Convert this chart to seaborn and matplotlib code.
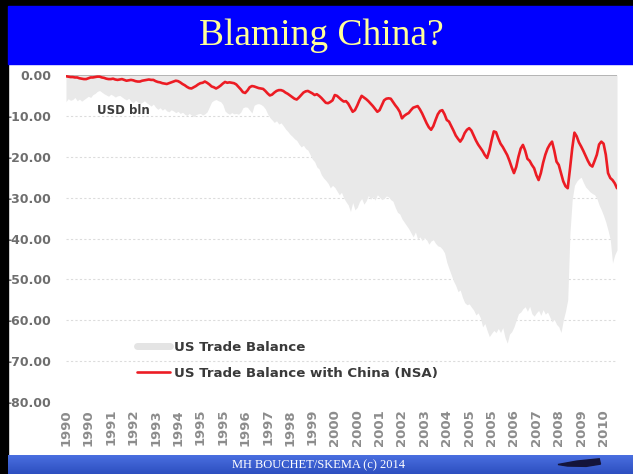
import numpy as np
import pandas as pd
import matplotlib
matplotlib.use("Agg")
import matplotlib.pyplot as plt
from matplotlib.patches import Rectangle, Polygon
from matplotlib.lines import Line2D
import seaborn as sns

# Monthly balances in USD bln, January 1990 to July 2010
china_balance = [
    -0.3, -0.4, -0.5, -0.5, -0.6, -0.6, -0.8, -0.9, -1.0, -1.0, -0.8, -0.6,      # 1990
    -0.6, -0.5, -0.4, -0.4, -0.6, -0.7, -0.9, -1.0, -1.0, -0.9, -1.1, -1.2,      # 1991
    -1.1, -1.0, -1.2, -1.4, -1.3, -1.2, -1.3, -1.5, -1.6, -1.6, -1.4, -1.3,      # 1992
    -1.2, -1.1, -1.2, -1.2, -1.5, -1.7, -1.8, -2.0, -2.1, -2.2, -2.0, -1.8,      # 1993
    -1.6, -1.4, -1.5, -1.8, -2.2, -2.5, -2.9, -3.2, -3.3, -3.0, -2.7, -2.3,      # 1994
    -2.0, -1.9, -1.6, -1.9, -2.3, -2.8, -3.0, -3.3, -3.0, -2.6, -2.1, -1.7,      # 1995
    -1.9, -1.8, -1.9, -2.0, -2.3, -2.9, -3.5, -4.2, -4.4, -3.8, -3.0, -2.7,      # 1996
    -2.8, -3.0, -3.2, -3.3, -3.4, -3.9, -4.5, -5.0, -4.8, -4.3, -3.9, -3.7,      # 1997
    -3.7, -3.9, -4.3, -4.6, -5.0, -5.4, -5.8, -6.0, -5.5, -4.9, -4.3, -4.0,      # 1998
    -3.9, -4.2, -4.5, -4.9, -4.7, -5.1, -5.6, -6.2, -6.8, -6.9, -6.6, -6.2,      # 1999
    -4.9, -5.1, -5.6, -6.1, -6.5, -6.4, -7.0, -8.0, -9.0, -8.6, -7.5, -6.2,      # 2000
    -5.1, -5.5, -5.9, -6.4, -7.0, -7.6, -8.3, -9.0, -8.6, -7.4, -6.2, -5.8,      # 2001
    -5.7, -5.8, -6.6, -7.4, -8.1, -9.0, -10.6, -10.0, -9.6, -9.3, -8.6, -8.0,    # 2002
    -7.8, -7.6, -8.4, -9.4, -10.6, -11.8, -12.8, -13.4, -12.5, -11.0, -9.6, -8.8,  # 2003
    -8.6, -9.6, -11.0, -11.4, -12.5, -13.6, -14.8, -15.6, -16.3, -15.5, -14.2, -13.4,  # 2004
    -13.0, -13.6, -14.8, -16.0, -17.0, -17.8, -18.6, -19.6, -20.3, -18.5, -16.0, -13.8,  # 2005
    -14.0, -15.5, -16.8, -17.6, -18.6, -19.6, -21.0, -22.6, -24.0, -22.5, -20.0, -18.0,  # 2006
    -17.1, -18.5, -20.5, -21.0, -22.0, -22.8, -24.5, -25.7, -24.0, -21.5, -19.5, -18.0,  # 2007
    -17.0, -16.3, -18.5, -21.2, -22.0, -24.0, -26.0, -27.2, -27.7, -23.0, -18.0, -14.1,  # 2008
    -15.0, -16.5, -17.5, -18.6, -19.8, -21.0, -22.0, -22.4, -21.0, -19.5, -17.0, -16.3,  # 2009
    -16.8, -19.5, -24.0, -25.2, -25.7, -26.5, -27.7,                                    # 2010
]

us_balance = [
    -6.5, -5.8, -6.2, -6.0, -5.5, -6.3, -5.9, -6.4, -6.0, -5.6, -5.2, -5.5,      # 1990
    -4.8, -4.5, -4.0, -3.8, -4.2, -4.6, -4.9, -5.2, -4.7, -5.0, -5.4, -5.1,      # 1991
    -5.0, -5.4, -5.8, -6.1, -5.7, -6.4, -6.8, -6.2, -6.6, -7.0, -6.7, -6.3,      # 1992
    -6.8, -7.2, -7.6, -7.1, -7.9, -8.4, -8.0, -8.6, -8.2, -8.8, -9.0, -8.5,      # 1993
    -8.8, -9.2, -8.9, -9.4, -9.1, -9.6, -9.9, -9.4, -9.8, -10.2, -9.7, -9.5,     # 1994
    -9.4, -9.8, -9.5, -9.0, -7.8, -6.6, -6.2, -6.0, -6.3, -6.5, -7.2, -8.8,      # 1995
    -9.3, -9.6, -9.2, -9.5, -9.4, -9.6, -9.1, -8.0, -7.8, -7.9, -8.6, -9.3,      # 1996
    -7.4, -7.1, -7.0, -7.2, -7.6, -8.3, -9.5, -10.4, -11.0, -11.6, -11.2, -12.0,  # 1997
    -11.7, -12.4, -13.2, -13.8, -14.5, -15.0, -15.6, -16.0, -16.9, -17.6, -17.2, -18.0,  # 1998
    -18.4, -19.5, -20.6, -21.2, -22.5, -23.0, -24.4, -25.2, -25.8, -26.5, -27.6, -27.0,  # 1999
    -27.5, -28.4, -29.3, -28.7, -30.1, -31.0, -31.8, -33.4, -31.2, -33.0, -32.4, -31.0,  # 2000
    -30.2, -31.6, -30.8, -29.5, -30.4, -29.8, -30.6, -29.3, -29.9, -30.5, -30.2, -29.6,  # 2001
    -29.8, -30.5, -30.9, -32.4, -33.6, -34.0, -35.2, -36.0, -36.8, -37.6, -38.6, -39.6,  # 2002
    -38.4, -40.2, -39.6, -40.5, -39.8, -40.3, -41.4, -40.6, -40.3, -41.2, -41.8, -42.0,  # 2003
    -42.6, -43.5, -45.8, -47.4, -48.9, -50.4, -51.5, -53.0, -52.6, -54.4, -55.7, -56.2,  # 2004
    -56.0, -56.8, -57.5, -58.7, -58.2, -59.4, -61.6, -60.8, -62.5, -64.0, -63.2, -62.5,  # 2005
    -63.0, -62.0, -63.0, -61.8, -64.2, -65.6, -63.4, -62.8, -61.6, -60.0, -58.4, -58.0,  # 2006
    -57.2, -56.7, -57.8, -56.6, -58.4, -59.0, -58.2, -57.6, -58.8, -57.4, -58.5, -58.0,  # 2007
    -59.2, -60.4, -59.8, -61.0, -61.6, -63.0, -60.0, -57.8, -55.0, -38.6, -30.5, -27.0,  # 2008
    -26.0, -25.4, -25.0, -26.3, -27.4, -28.0, -28.6, -29.0, -29.3, -30.2, -31.8, -33.0,  # 2009
    -34.4, -36.0, -38.0, -40.3, -46.0, -44.0, -42.8,                                    # 2010
]

# One label every ten months, starting January 1990
tick_labels = ["1990", "1990", "1991", "1992", "1993", "1994", "1995", "1995",
               "1996", "1997", "1998", "1999", "2000", "2000", "2001", "2002",
               "2003", "2004", "2005", "2005", "2006", "2007", "2008", "2009", "2010"]
y_ticks = [0, -10, -20, -30, -40, -50, -60, -70, -80]

title = "Blaming China?"
footer = "MH BOUCHET/SKEMA (c) 2014"
series_names = ["US Trade Balance", "US Trade Balance with China (NSA)"]

df = pd.DataFrame({
    "month": np.arange(len(china_balance)),
    "china": china_balance,
    "total": us_balance,
})

sns.set_theme(style="white")
plt.rcParams["font.family"] = ["DejaVu Sans"]

W, H = 633, 474
fig = plt.figure(figsize=(W / 100, H / 100), dpi=100)
fig.patch.set_facecolor("white")


def fx(px):
    return px / W


def fy(py):
    return 1 - py / H


ax = fig.add_axes([fx(66), fy(402), fx(617) - fx(66), fy(75) - fy(402)])
ax.set_facecolor("white")

# total trade balance as a shaded area
ax.fill_between(df["month"], 0, df["total"], color="#e9e9e9", linewidth=0, zorder=1)
# balance with China as a red line
sns.lineplot(data=df, x="month", y="china", ax=ax, color="#ec1c24",
             linewidth=1.9, zorder=3, legend=False)

for v in y_ticks[1:-1]:
    ax.axhline(v, color="#dcdcdc", lw=0.8, ls=(0, (2, 2)), zorder=0.5)
ax.axhline(0, color="#a9a9a9", lw=1.2, zorder=2)

ax.set_xlim(0, len(china_balance) - 1)
ax.set_ylim(-80, 0)
ax.set_xticks(np.arange(len(tick_labels)) * 10)
ax.set_xticklabels(tick_labels, rotation=90, fontsize=9.5, color="#8c8c8c",
                   fontweight="bold")
ax.set_yticks(y_ticks)
ax.set_yticklabels([f"{v:.2f}" for v in y_ticks], fontsize=9, color="#6e6e6e",
                   fontweight="bold")
ax.tick_params(axis="x", length=0, pad=5)
ax.tick_params(axis="y", length=0, pad=10.5)
ax.set_xlabel("")
ax.set_ylabel("")
for s in ax.spines.values():
    s.set_visible(False)

ax.text(fx(97), fy(110), "USD bln", transform=fig.transFigure, fontsize=8.5,
        fontweight="bold", color="#3c3c3c", va="center", ha="left")

handles = [Line2D([0], [0], color="#e4e4e4", lw=5),
           Line2D([0], [0], color="#ec1c24", lw=1.9)]
leg = ax.legend(handles, series_names, loc="upper left",
                bbox_to_anchor=(fx(137), fy(341)), bbox_transform=fig.transFigure,
                frameon=False, borderpad=0, borderaxespad=0, handlelength=2.45,
                handletextpad=0.3, labelspacing=0.95,
                prop={"weight": "bold", "size": 9.6})
for t in leg.get_texts():
    t.set_color("#3a3a3a")

# slide frame: black border, blue title bar, footer band
fig.add_artist(Rectangle((0, 0), fx(8), 1, transform=fig.transFigure,
                         color="black", zorder=10))
fig.add_artist(Rectangle((0, fy(6)), 1, fy(0) - fy(6), transform=fig.transFigure,
                         color="black", zorder=10))
fig.add_artist(Rectangle((fx(8), fy(64)), 1 - fx(8), fy(6) - fy(64),
                         transform=fig.transFigure, color="#0000ff", zorder=10))
fig.text(fx(321), fy(36), title, fontsize=27, color="#ffff99",
         family="Liberation Serif", ha="center", va="center", zorder=11)

grad = np.linspace(0, 1, 64).reshape(-1, 1)
band = fig.add_axes([fx(8), 0, 1 - fx(8), fy(455)], zorder=10)
band.imshow(grad, aspect="auto", extent=(0, 1, 0, 1),
            cmap=matplotlib.colors.LinearSegmentedColormap.from_list(
                "band", ["#4a6fe0", "#2d4fc0"]))
band.set_axis_off()
band.add_patch(Polygon([(0.88, 0.50), (0.91, 0.68), (0.946, 0.80),
                        (0.948, 0.52), (0.925, 0.40), (0.895, 0.42)],
                       closed=True, color="#14143a", transform=band.transAxes))
band.text(0.497, 0.45, footer, transform=band.transAxes, fontsize=9,
          color="white", family="Liberation Serif", ha="center", va="center")

fig.savefig("out.png", dpi=100)
